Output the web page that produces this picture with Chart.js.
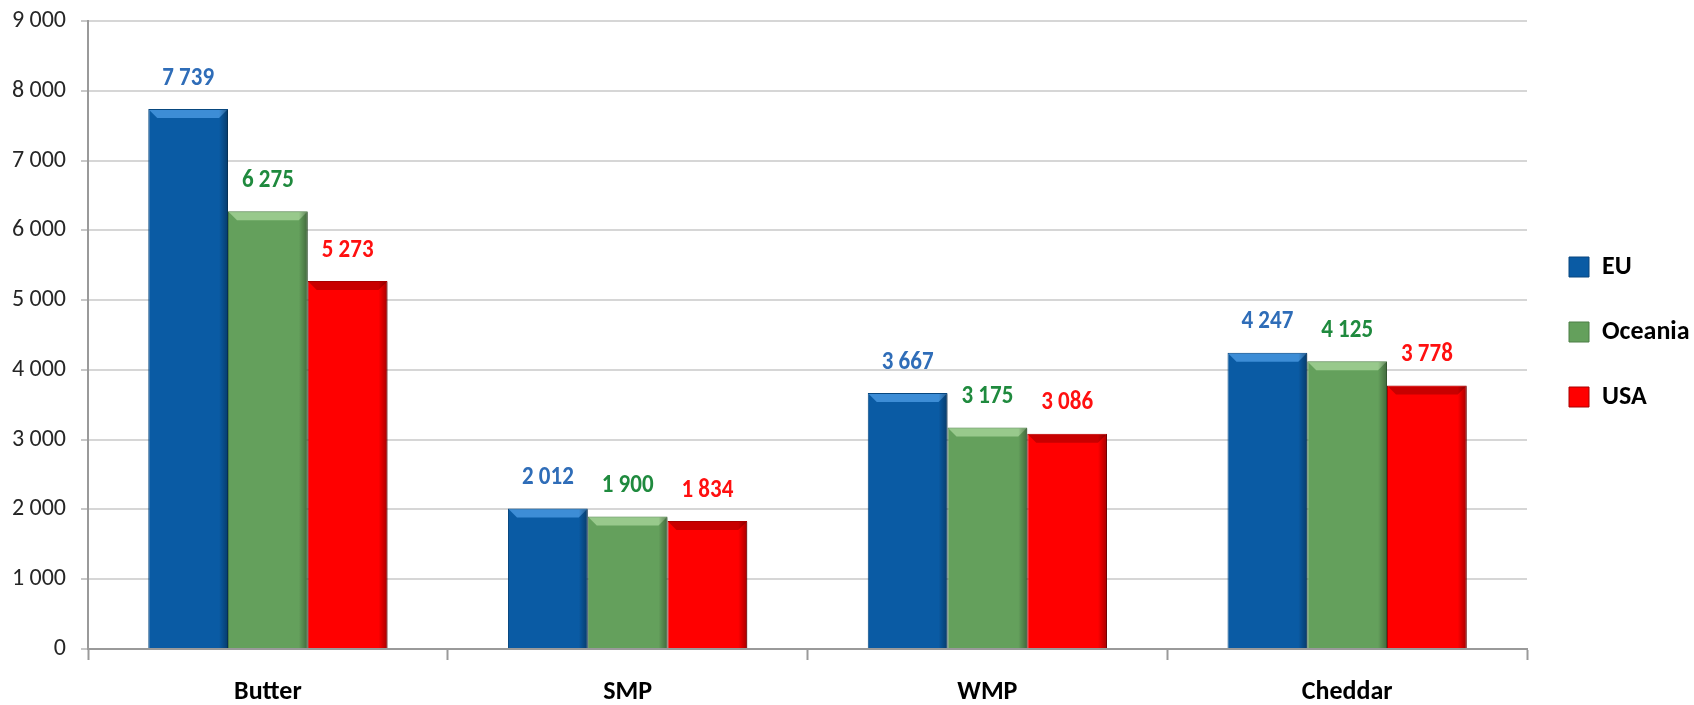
<!DOCTYPE html>
<html>
<head>
<meta charset="utf-8">
<script src="https://cdn.jsdelivr.net/npm/chart.js@4/dist/chart.umd.min.js"></script>
<style>
  html, body { margin: 0; padding: 0; background: #ffffff; }
  #wrap { width: 1694px; height: 705px; position: relative; }
</style>
</head>
<body>
<div id="wrap"><canvas id="c" width="1694" height="705"></canvas></div>
<script>
// ---- data ----
const categories = ['Butter', 'SMP', 'WMP', 'Cheddar'];
const seriesNames = ['EU', 'Oceania', 'USA'];
const euValues = [7739, 2012, 3667, 4247];
const oceaniaValues = [6275, 1900, 3175, 4125];
const usaValues = [5273, 1834, 3086, 3778];
const yTickMin = 0;
const yTickMax = 9000;
const yTickStep = 1000;

// ---- styles ----
const FONT = "Carlito, 'Liberation Sans', sans-serif";
const fillColors = ['#0A5BA4', '#64A05C', '#FF0000'];
const edgeColors = ['#08477F', '#4C7F46', '#A80000'];
const bevelColors = ['#3D8DD6', '#98C98C', '#C80000'];
const labelColors = ['#2F6DB8', '#1F8A3E', '#FF1010'];

function fmt(v) {
  return String(v).replace(/\B(?=(\d{3})+(?!\d))/g, ' ');
}

// bevel shading + value labels drawn from the bar elements' geometry
const barDecor = {
  id: 'barDecor',
  afterDatasetsDraw(chart) {
    const ctx = chart.ctx;
    ctx.save();
    chart.data.datasets.forEach((ds, di) => {
      const meta = chart.getDatasetMeta(di);
      meta.data.forEach((el) => {
        const w = el.width, l = el.x - w / 2, r = el.x + w / 2, t = el.y, b = el.base;
        const bv = 8;
        ctx.fillStyle = bevelColors[di];
        ctx.beginPath();
        ctx.moveTo(l + 1, t + 1);
        ctx.lineTo(r - 1, t + 1);
        ctx.lineTo(r - 1 - bv, t + 1 + bv);
        ctx.lineTo(l + 1 + bv, t + 1 + bv);
        ctx.closePath();
        ctx.fill();
        const g = ctx.createLinearGradient(r - 9, 0, r, 0);
        g.addColorStop(0, 'rgba(0,0,0,0)');
        g.addColorStop(1, 'rgba(0,0,0,0.35)');
        ctx.fillStyle = g;
        ctx.fillRect(r - 9, t + 1, 9, b - t - 1);
      });
    });
    ctx.restore();

    ctx.save();
    ctx.font = 'bold 23px ' + FONT;
    ctx.textAlign = 'center';
    ctx.textBaseline = 'middle';
    chart.data.datasets.forEach((ds, di) => {
      const meta = chart.getDatasetMeta(di);
      ctx.fillStyle = labelColors[di];
      meta.data.forEach((el, i) => {
        ctx.save();
        ctx.translate(el.x, el.y - 31);
        ctx.scale(1, 1.18);
        ctx.fillText(fmt(ds.data[i]), 0, 0);
        ctx.restore();
      });
    });
    ctx.restore();
  }
};

const legendFit = {
  id: 'legendFit',
  afterInit(chart) {
    const lg = chart.legend;
    if (!lg) return;
    const orig = lg.fit;
    lg.fit = function () {
      orig.call(this);
      this.width = 167;
    };
  },
  afterLayout(chart) {
    const lg = chart.legend;
    if (!lg) return;
    lg.top -= 3; lg.bottom -= 3;
    lg.left += 3; lg.right += 3;
  }
};

const datasetsSrc = [euValues, oceaniaValues, usaValues];

new Chart(document.getElementById('c'), {
  type: 'bar',
  data: {
    labels: categories,
    datasets: seriesNames.map((name, i) => ({
      label: name,
      data: datasetsSrc[i],
      backgroundColor: fillColors[i],
      borderColor: edgeColors[i],
      borderWidth: 1,
      borderSkipped: 'bottom',
      categoryPercentage: 0.665,
      barPercentage: 1.0
    }))
  },
  options: {
    responsive: false,
    animation: false,
    layout: { padding: { top: 21, right: 0, bottom: 0, left: 0 } },
    plugins: {
      tooltip: { enabled: false },
      legend: {
        position: 'right',
        fullSize: false,
        align: 'center',
        labels: {
          boxWidth: 20,
          boxHeight: 20,
          padding: 39,
          color: '#000000',
          font: { family: FONT, size: 26, weight: 'bold' }
        }
      }
    },
    scales: {
      x: {
        grid: {
          offset: true,
          drawOnChartArea: false,
          drawTicks: true,
          tickLength: 11,
          tickColor: '#9a9a9a',
          tickWidth: 2
        },
        border: { display: true, color: '#9a9a9a', width: 2 },
        ticks: {
          color: '#000000',
          padding: 17,
          font: { family: FONT, size: 26, weight: 'bold' }
        },
        afterFit(scale) { scale.height = 56; scale.paddingLeft = 0; scale.paddingRight = 0; }
      },
      y: {
        min: yTickMin,
        max: yTickMax,
        ticks: {
          stepSize: yTickStep,
          color: '#262626',
          padding: 15,
          font: { family: FONT, size: 24 },
          callback: (v) => fmt(v)
        },
        grid: {
          color: '#d6d6d6',
          lineWidth: 2,
          drawTicks: true,
          tickLength: 7,
          tickColor: '#c8c8c8'
        },
        border: { display: true, color: '#9a9a9a', width: 2 },
        afterFit(scale) { scale.width = 88; scale.paddingTop = 0; scale.paddingBottom = 0; }
      }
    }
  },
  plugins: [barDecor, legendFit]
});
</script>
</body>
</html>
